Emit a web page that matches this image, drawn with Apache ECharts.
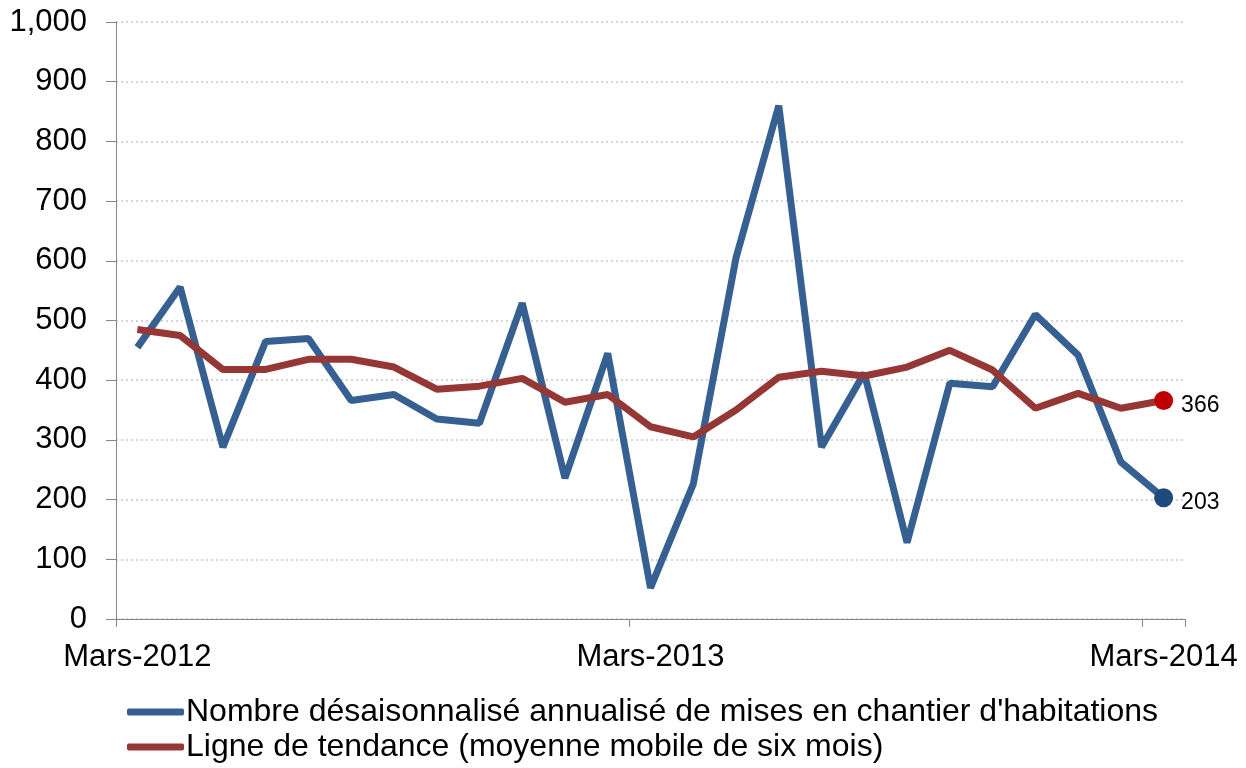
<!DOCTYPE html>
<html>
<head>
<meta charset="utf-8">
<script src="https://cdn.jsdelivr.net/npm/echarts@6/dist/echarts.min.js"></script>
<style>
  html, body { margin: 0; padding: 0; background: #ffffff; }
  #chart { width: 1246px; height: 768px; }
</style>
</head>
<body>
<div id="chart"></div>
<script>
const months = [
  'Mars-2012', 'Avr-2012', 'Mai-2012', 'Juin-2012', 'Juil-2012', 'Août-2012',
  'Sept-2012', 'Oct-2012', 'Nov-2012', 'Déc-2012', 'Janv-2013', 'Févr-2013',
  'Mars-2013', 'Avr-2013', 'Mai-2013', 'Juin-2013', 'Juil-2013', 'Août-2013',
  'Sept-2013', 'Oct-2013', 'Nov-2013', 'Déc-2013', 'Janv-2014', 'Févr-2014',
  'Mars-2014'
]
const mises = [
  455, 556, 288, 465, 470, 366, 376, 335, 328, 529, 236, 445,
  52, 226, 605, 860, 288, 412, 128, 395, 389, 510, 442, 263, 203
]
const tendance = [
  485, 475, 418, 418, 435, 435, 422, 385, 390, 403, 363, 376,
  322, 305, 350, 405, 415, 407, 422, 450, 417, 353, 378, 353, 366
]
const yTicks = { min: 0, max: 1000, step: 100 }

const nameMises = 'Nombre désaisonnalisé annualisé de mises en chantier d\'habitations'
const nameTendance = 'Ligne de tendance (moyenne mobile de six mois)'

// only the last point gets a dot and a label
function lastPointData(values, dotColor) {
  return values.map((v, i) => {
    if (i !== values.length - 1) return v
    return {
      value: v,
      symbol: 'circle',
      symbolSize: 19,
      itemStyle: { color: dotColor },
      label: {
        show: true,
        position: 'right',
        distance: 8,
        offset: [0, 5],
        color: '#000000',
        fontSize: 23,
        fontFamily: 'Liberation Sans'
      }
    }
  })
}

const chart = echarts.init(document.getElementById('chart'))
chart.setOption({
  backgroundColor: '#ffffff',
  animation: false,
  textStyle: { fontFamily: 'Liberation Sans' },
  grid: {
    left: 116,
    right: 61,
    top: 22,
    bottom: 149
  },
  legend: {
    orient: 'vertical',
    left: 127,
    top: 696,
    padding: 0,
    itemWidth: 57,
    itemHeight: 7,
    itemGap: 3,
    icon: 'roundRect',
    textStyle: {
      color: '#000000',
      fontSize: 32,
      lineHeight: 32,
      padding: [0, 0, 0, -3]
    },
    data: [nameMises, nameTendance]
  },
  xAxis: {
    type: 'category',
    boundaryGap: true,
    data: months,
    axisLine: { lineStyle: { color: '#868686', width: 1 } },
    axisTick: {
      show: true,
      interval: 11,
      length: 8,
      lineStyle: { color: '#868686' }
    },
    axisLabel: {
      interval: 11,
      color: '#000000',
      fontSize: 31,
      margin: 23
    },
    splitLine: { show: false }
  },
  yAxis: {
    type: 'value',
    min: yTicks.min,
    max: yTicks.max,
    interval: yTicks.step,
    axisLine: { show: true, lineStyle: { color: '#868686', width: 1 } },
    axisTick: { show: true, length: 10, lineStyle: { color: '#868686' } },
    axisLabel: {
      color: '#000000',
      fontSize: 31,
      margin: 29,
      formatter: v => v.toLocaleString('en-US')
    },
    splitLine: {
      show: true,
      lineStyle: { color: '#c8c8c8', type: [2, 3], width: 1.5 }
    }
  },
  series: [
    {
      name: nameMises,
      type: 'line',
      color: '#376092',
      symbol: 'none',
      showSymbol: true,
      lineStyle: { width: 7, color: '#376092' },
      data: lastPointData(mises, '#1F497D'),
      z: 2
    },
    {
      name: nameTendance,
      type: 'line',
      color: '#953735',
      symbol: 'none',
      showSymbol: true,
      lineStyle: { width: 7, color: '#953735' },
      data: lastPointData(tendance, '#C00000'),
      z: 3
    }
  ]
})
</script>
</body>
</html>
